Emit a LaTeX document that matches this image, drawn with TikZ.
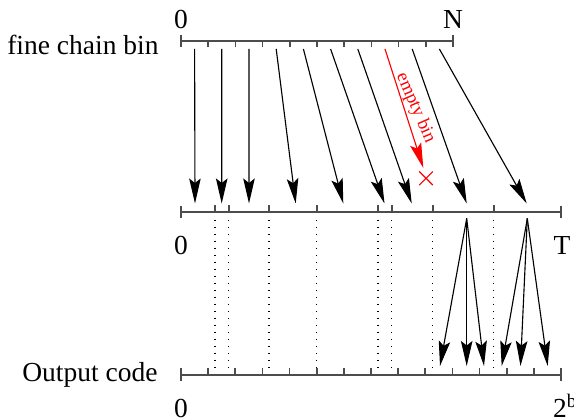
\documentclass[tikz,border=0pt]{standalone}
\usepackage{fontspec}
\setmainfont{Liberation Serif}
\usetikzlibrary{arrows.meta,positioning,shapes.misc}

\begin{document}
\begin{tikzpicture}[
    x=0.4pt, y=-0.4pt,
    axis/.style={draw=black!70, line width=0.8pt},
    tick/.style={draw=black!70, line width=0.7pt},
    map/.style={-{Stealth[length=10pt, width=4.6pt, inset=1.8pt]}, line width=0.45pt},
    gap/.style={draw=red, line width=0.45pt, -{Stealth[length=10pt, width=4.6pt, inset=1.8pt]}},
    guide/.style={line width=0.5pt, dash pattern=on 0.6pt off 2.2pt},
    lbl/.style={font=\fontsize{11}{13}\selectfont, inner sep=0pt},
    note/.style={font=\fontsize{7.4}{9}\selectfont, text=red, inner sep=0pt}
  ]
    \useasboundingbox (0,0) rectangle (574,418);

    % Top axis -- fine chain bins
    \draw[axis] (181,41.5) -- (453,41.5);
    \draw[tick] (181,35.5) -- (181,47.5);
    \draw[tick] (453,35.5) -- (453,47.5);
    \foreach \i in {1,...,9} \draw[tick] ({181+27.2*\i},41.5) -- ++(0,6);
    \node[lbl, anchor=base] (top0) at (181,29) {0};
    \node[lbl, anchor=base] (topN) at (453,29) {N};
    \node[lbl, anchor=base east] (finelbl) at (159,55) {fine chain bin};

    % Middle axis -- T
    \draw[axis] (181,212) -- (561,212);
    \draw[tick] (181,206) -- (181,218);
    \draw[tick] (561,206) -- (561,218);
    \foreach \x in {215,228.7,269,316.7,378,391.7,432.7,493.7} {
      \draw[tick] (\x,212) -- ++(0,-6.5);
      \draw[guide] (\x,220) -- (\x,368);
    }
    \node[lbl, anchor=base] (mid0) at (181,255) {0};
    \node[lbl, anchor=base] (midT) at (562,255) {T};

    % Bottom axis -- output code
    \draw[axis] (181,375) -- (561,375);
    \draw[tick] (181,368.5) -- (181,381.5);
    \draw[tick] (561,368.5) -- (561,381.5);
    \foreach \i in {1,...,13} \draw[tick] ({181+27.14*\i},375) -- ++(0,-6.5);
    \node[lbl, anchor=base east] (outlbl) at (158,381.5) {Output code};
    \node[lbl, anchor=base] (bot0) at (181,417.5) {0};
    \node[lbl, anchor=base west] (bot2b) at (552.5,417.5) {2\textsuperscript{b}};

    % bin centres and their targets
    \foreach \i in {1,...,10} \coordinate (b\i) at ({181+27.2*(\i-0.5)},49);
    \coordinate (t1) at (195,203.5);
    \coordinate (t2) at (221.7,203.5);
    \coordinate (t3) at (249,203.5);
    \coordinate (t4) at (295.7,203.5);
    \coordinate (t5) at (343.3,203.5);
    \coordinate (t6) at (384.5,203.5);
    \coordinate (t7) at (411.7,203.5);
    \coordinate (t9) at (466.7,203.5);
    \coordinate (t10) at (526.7,203.5);
    \coordinate (e8) at (423.3,168);
    \foreach \i in {1,2,3,4,5,6,7,9,10} \draw[map] (b\i) -- (t\i);

    % empty bin
    \draw[gap] (b8) -- (e8);
    \node[note, rotate=-66.5] (emptylbl) at (415.5,108) {empty bin};
    \node[cross out, draw=red, line width=0.45pt, minimum size=5pt, inner sep=0pt] (miss) at (426,178.3) {};

    % fan out to the output code
    \coordinate (f1) at (466.7,218.5);
    \coordinate (f2) at (527.3,218.5);
    \coordinate (o1) at (440,366);
    \coordinate (o2) at (466.7,366);
    \coordinate (o3) at (484,366);
    \coordinate (o4) at (501.7,366);
    \coordinate (o5) at (520.5,366);
    \coordinate (o6) at (547.7,366);
    \foreach \i in {1,2,3} \draw[map] (f1) -- (o\i);
    \foreach \i in {4,5,6} \draw[map] (f2) -- (o\i);

  \end{tikzpicture}
\end{document}
